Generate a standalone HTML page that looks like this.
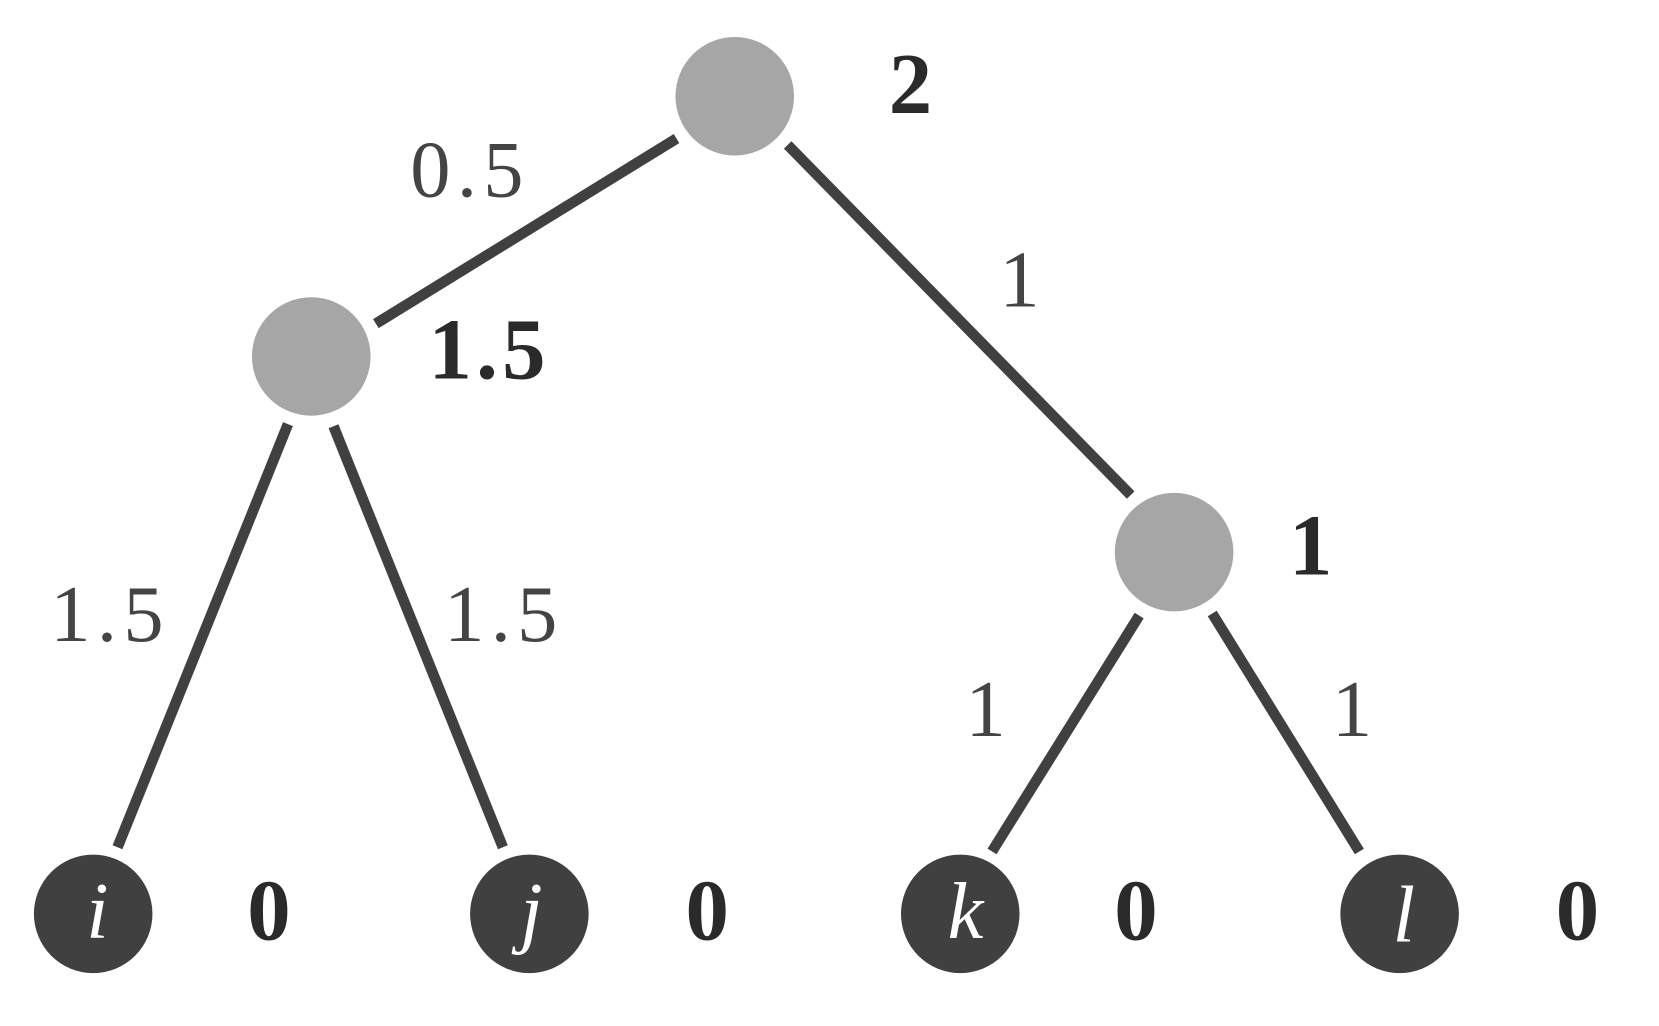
<!DOCTYPE html>
<html><head><meta charset="utf-8"><style>
html,body{margin:0;padding:0;background:#fff;width:1659px;height:1026px;overflow:hidden}
svg{display:block}
text{font-family:"Liberation Serif",serif}
.e{fill:#444;font-size:76px;letter-spacing:6px}
.b{fill:#2a2a2a;font-size:82px;font-weight:bold;letter-spacing:4px}
.w{fill:#fff;font-size:76px;font-style:italic}
</style></head><body>
<svg width="1659" height="1026" viewBox="0 0 1567 970" preserveAspectRatio="none">
<g stroke="#404040" stroke-width="10">
<line x1="639" y1="131" x2="355" y2="306"/>
<line x1="744" y1="137" x2="1068" y2="468"/>
<line x1="272" y1="401" x2="111" y2="801"/>
<line x1="315" y1="403" x2="475" y2="801"/>
<line x1="1076" y1="582" x2="937" y2="805"/>
<line x1="1145" y1="580" x2="1284" y2="805"/>
</g>
<g fill="#a6a6a6">
<circle cx="694" cy="91" r="56"/>
<circle cx="294" cy="337" r="56"/>
<circle cx="1109" cy="522" r="56"/>
</g>
<g fill="#404040">
<circle cx="88" cy="864" r="56"/>
<circle cx="500" cy="864" r="56"/>
<circle cx="907" cy="864" r="56"/>
<circle cx="1322" cy="864" r="56"/>
</g>
<g text-anchor="middle">
<text class="b" x="862" y="107">2</text>
<text class="b" x="462" y="358">1.5</text>
<text class="b" x="1240" y="543">1</text>
<text class="e" x="444" y="186">0.5</text>
<text class="e" x="966" y="290">1</text>
<text class="e" x="104" y="606">1.5</text>
<text class="e" x="476" y="606">1.5</text>
<text class="e" x="934" y="696">1</text>
<text class="e" x="1280" y="696">1</text>
<text class="b" x="256" y="888">0</text>
<text class="b" x="670" y="888">0</text>
<text class="b" x="1075" y="888">0</text>
<text class="b" x="1492" y="888">0</text>
<text class="w" x="92" y="887">i</text>
<text class="w" x="502" y="887">j</text>
<text class="w" x="912" y="887">k</text>
<text class="w" x="1326" y="890">l</text>
</g>
</svg>
</body></html>
